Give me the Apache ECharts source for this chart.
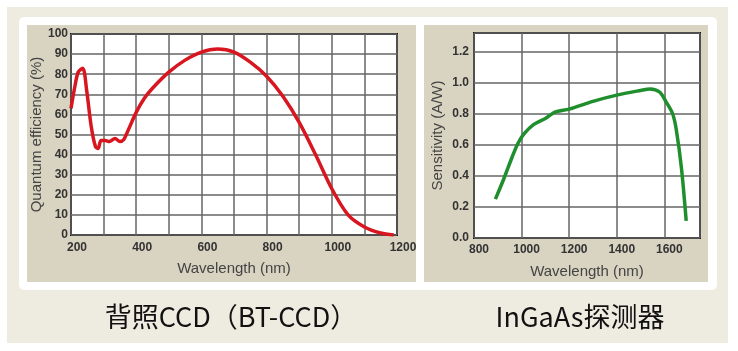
<!DOCTYPE html>
<html>
<head>
<meta charset="utf-8">
<script src="https://cdn.jsdelivr.net/npm/echarts@6/dist/echarts.min.js"></script>
<style>
  html, body { margin: 0; padding: 0; background: #fff; }
  #chart { width: 738px; height: 351px; }
</style>
</head>
<body>
<div id="chart"></div>
<script>
// 背照CCD quantum efficiency curve: [wavelength nm, QE %]
const ccdCurve = [
  [200, 63], [212, 74], [222, 81], [236, 83], [248, 72], [262, 54], [275, 44],
  [283, 43], [292, 47], [305, 47], [318, 46.5], [335, 48], [350, 46.5],
  [362, 47.5], [375, 52], [400, 61], [425, 68], [450, 73], [500, 81],
  [550, 87], [600, 91], [650, 92.5], [700, 91], [750, 86], [800, 79],
  [850, 69], [900, 56], [950, 40], [1000, 23], [1050, 10], [1100, 4],
  [1150, 1], [1190, 0]
];

// InGaAs sensitivity curve: [wavelength nm, A/W]
const ingaasCurve = [
  [890, 0.25], [925, 0.38], [960, 0.52], [985, 0.61], [1010, 0.67],
  [1050, 0.73], [1100, 0.77], [1140, 0.81], [1200, 0.83], [1300, 0.88],
  [1400, 0.92], [1500, 0.95], [1540, 0.96], [1580, 0.94], [1610, 0.87],
  [1635, 0.80], [1650, 0.70], [1672, 0.45], [1692, 0.11]
];

const captions = ["背照CCD（BT-CCD）", "InGaAs探测器"];

const labelFont = "Liberation Sans, Arial, sans-serif";
const gridLine = { show: true, lineStyle: { color: "#666", width: 1.5 } };
const nameStyle = { color: "#444", fontSize: 15, fontFamily: labelFont };

const myChart = echarts.init(document.getElementById("chart"));

const options = {
  animation: false,
  backgroundColor: "#fff",
  graphic: [
    // beige frame, white panel, tan plot backgrounds
    { type: "rect", z: -10, shape: { x: 7, y: 7, width: 721, height: 336 }, style: { fill: "#eeebe1" } },
    { type: "rect", z: -9, shape: { x: 19, y: 17, width: 698, height: 273, r: 5 }, style: { fill: "#fff" } },
    { type: "rect", z: -8, shape: { x: 27, y: 25, width: 389, height: 257 }, style: { fill: "#d9d3c1" } },
    { type: "rect", z: -8, shape: { x: 424, y: 25, width: 284, height: 257 }, style: { fill: "#d9d3c1" } },
    {
      type: "text", x: 231, y: 317, z: 5,
      style: { text: captions[0], fill: "#111", font: '27px "Noto Sans CJK SC", sans-serif', textAlign: "center", textVerticalAlign: "middle" }
    },
    {
      type: "text", x: 580, y: 317, z: 5,
      style: { text: captions[1], fill: "#111", font: '27px "Noto Sans CJK SC", sans-serif', textAlign: "center", textVerticalAlign: "middle" }
    }
  ],
  grid: [
    { left: 71, top: 34, width: 326, height: 201, show: true, backgroundColor: "#fff", borderColor: "#111", borderWidth: 2 },
    { left: 474, top: 33, width: 226, height: 205, show: true, backgroundColor: "#fff", borderColor: "#111", borderWidth: 2 }
  ],
  xAxis: [
    {
      gridIndex: 0, type: "value", min: 200, max: 1200, interval: 100,
      name: "Wavelength (nm)", nameLocation: "middle", nameGap: 26, nameTextStyle: nameStyle,
      axisLine: { show: false }, axisTick: { show: false }, splitLine: gridLine,
      axisLabel: {
        color: "#333", fontSize: 12, fontWeight: "bold", fontFamily: labelFont, margin: 7,
        padding: [0, 0, 0, 12],
        formatter: (v) => (v % 200 === 0 ? String(v) : "")
      }
    },
    {
      gridIndex: 1, type: "value", min: 800, max: 1750, interval: 200,
      name: "Wavelength (nm)", nameLocation: "middle", nameGap: 26, nameTextStyle: nameStyle,
      axisLine: { show: false }, axisTick: { show: false }, splitLine: gridLine,
      axisLabel: {
        color: "#333", fontSize: 12, fontWeight: "bold", fontFamily: labelFont, margin: 6,
        padding: [0, 0, 0, 10], showMaxLabel: false,
        formatter: (v) => String(v)
      }
    }
  ],
  yAxis: [
    {
      gridIndex: 0, type: "value", min: 0, max: 100, interval: 10,
      name: "Quantum efficiency (%)", nameLocation: "middle", nameGap: 25, nameTextStyle: nameStyle,
      axisLine: { show: false }, axisTick: { show: false }, splitLine: gridLine,
      axisLabel: { color: "#333", fontSize: 12, fontWeight: "bold", fontFamily: labelFont, margin: 3 }
    },
    {
      gridIndex: 1, type: "value", min: 0, max: 1.32, interval: 0.2,
      name: "Sensitivity (A/W)", nameLocation: "middle", nameGap: 29, nameTextStyle: nameStyle,
      axisLine: { show: false }, axisTick: { show: false }, splitLine: gridLine,
      axisLabel: {
        color: "#333", fontSize: 12, fontWeight: "bold", fontFamily: labelFont, margin: 5,
        showMaxLabel: false, formatter: (v) => v.toFixed(1)
      }
    }
  ],
  series: [
    {
      type: "line", xAxisIndex: 0, yAxisIndex: 0, data: ccdCurve,
      smooth: 0.3, showSymbol: false, lineStyle: { color: "#d8161f", width: 3.5 }
    },
    {
      type: "line", xAxisIndex: 1, yAxisIndex: 1, data: ingaasCurve,
      smooth: 0.3, showSymbol: false, lineStyle: { color: "#1f8e2d", width: 3.5 }
    }
  ]
};

myChart.setOption(options);
</script>
</body>
</html>
